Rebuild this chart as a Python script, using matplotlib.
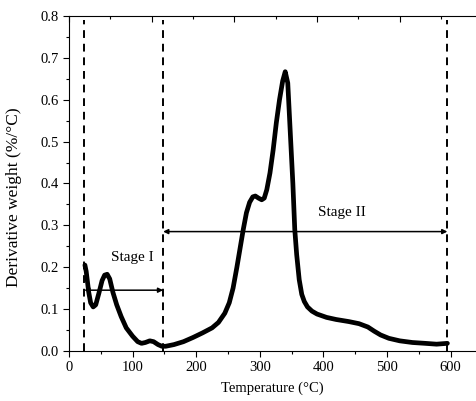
import matplotlib.pyplot as plt
from matplotlib.ticker import MultipleLocator

# --- Fonts ---
plt.rcParams["font.family"] = "Liberation Serif"
plt.rcParams["font.size"] = 10.5

# --- DTG curve ---
temp = [25, 27, 29, 31, 34, 38, 42, 47, 52, 56, 60, 64, 69, 75, 82, 90,
        100, 108, 114, 120, 127, 133, 140, 146, 152, 165, 180, 195, 210,
        225, 235, 245, 252, 258, 264, 269, 274, 279, 284, 289, 293, 298,
        303, 307, 311, 316, 321, 326, 331, 336, 340, 344, 347, 350, 352,
        355, 358, 362, 366, 370, 375, 382, 390, 405, 420, 440, 456, 470,
        480, 490, 503, 520, 540, 560, 578, 595]
dtg = [0.205, 0.19, 0.165, 0.14, 0.115, 0.105, 0.11, 0.138, 0.168, 0.181,
       0.183, 0.172, 0.14, 0.11, 0.082, 0.055, 0.035, 0.022, 0.018, 0.020,
       0.024, 0.022, 0.015, 0.011, 0.011, 0.015, 0.022, 0.032, 0.043,
       0.055, 0.068, 0.09, 0.115, 0.15, 0.2, 0.245, 0.29, 0.33, 0.355,
       0.368, 0.370, 0.365, 0.361, 0.365, 0.385, 0.425, 0.48, 0.545, 0.6,
       0.645, 0.667, 0.64, 0.55, 0.46, 0.40, 0.29, 0.23, 0.17, 0.135,
       0.118, 0.105, 0.095, 0.088, 0.080, 0.075, 0.070, 0.065, 0.057,
       0.047, 0.038, 0.030, 0.024, 0.020, 0.018, 0.016, 0.018]

# --- Stage boundaries and labels ---
stage_bounds = [24, 148, 595]
stage_names = ["Stage I", "Stage II"]
stage_arrow_y = [0.145, 0.285]
stage_text_xy = [(100, 0.222), (429, 0.33)]

fig = plt.figure(figsize=(4.76, 4.01), dpi=100)
ax = fig.add_axes([0.145, 0.125, 0.855, 0.835])

ax.plot(temp, dtg, color="black", lw=3.4, solid_capstyle="round",
        solid_joinstyle="round")

for xb in stage_bounds:
    ax.plot([xb, xb], [0, 0.79], color="black", lw=1.4, dashes=(4, 3))

for i, name in enumerate(stage_names):
    ax.annotate("", xy=(stage_bounds[i], stage_arrow_y[i]),
                xytext=(stage_bounds[i + 1], stage_arrow_y[i]),
                arrowprops=dict(arrowstyle="<|-|>", color="black", lw=1.1,
                                mutation_scale=7, shrinkA=0, shrinkB=0))
    ax.text(*stage_text_xy[i], name, ha="center", va="center", fontsize=11)

ax.set_xlim(0, 640)
ax.set_ylim(0, 0.8)
ax.xaxis.set_major_locator(MultipleLocator(100))
ax.xaxis.set_minor_locator(MultipleLocator(50))
ax.yaxis.set_major_locator(MultipleLocator(0.1))
ax.yaxis.set_minor_locator(MultipleLocator(0.05))
ax.yaxis.set_major_formatter(lambda v, p: f"{v:.1f}")
ax.tick_params(which="major", direction="out", length=4, width=0.8)
ax.tick_params(which="minor", direction="out", length=2.5, width=0.8)
ax.spines["right"].set_visible(False)
ax.spines["top"].set_visible(False)

ax.set_xlabel("Temperature (°C)", fontsize=10.5, labelpad=5)
ax.set_ylabel("Derivative weight (%/°C)", fontsize=12.5)
ax.yaxis.set_label_coords(-0.115, 0.46)

# top axis with its own tick spacing
top = ax.twiny()
top.set_xlim(ax.get_xlim())
top.xaxis.set_major_locator(MultipleLocator(130))
top.xaxis.set_minor_locator(MultipleLocator(65))
top.tick_params(which="both", direction="in", labeltop=False)
top.tick_params(which="major", length=4, width=0.8)
top.tick_params(which="minor", length=2.5, width=0.8)
top.spines["top"].set_visible(True)
top.spines["top"].set_linewidth(0.8)
top.spines["right"].set_visible(False)
top.spines["left"].set_visible(False)
top.spines["bottom"].set_visible(False)

plt.savefig("out.png", dpi=100)
plt.close()
